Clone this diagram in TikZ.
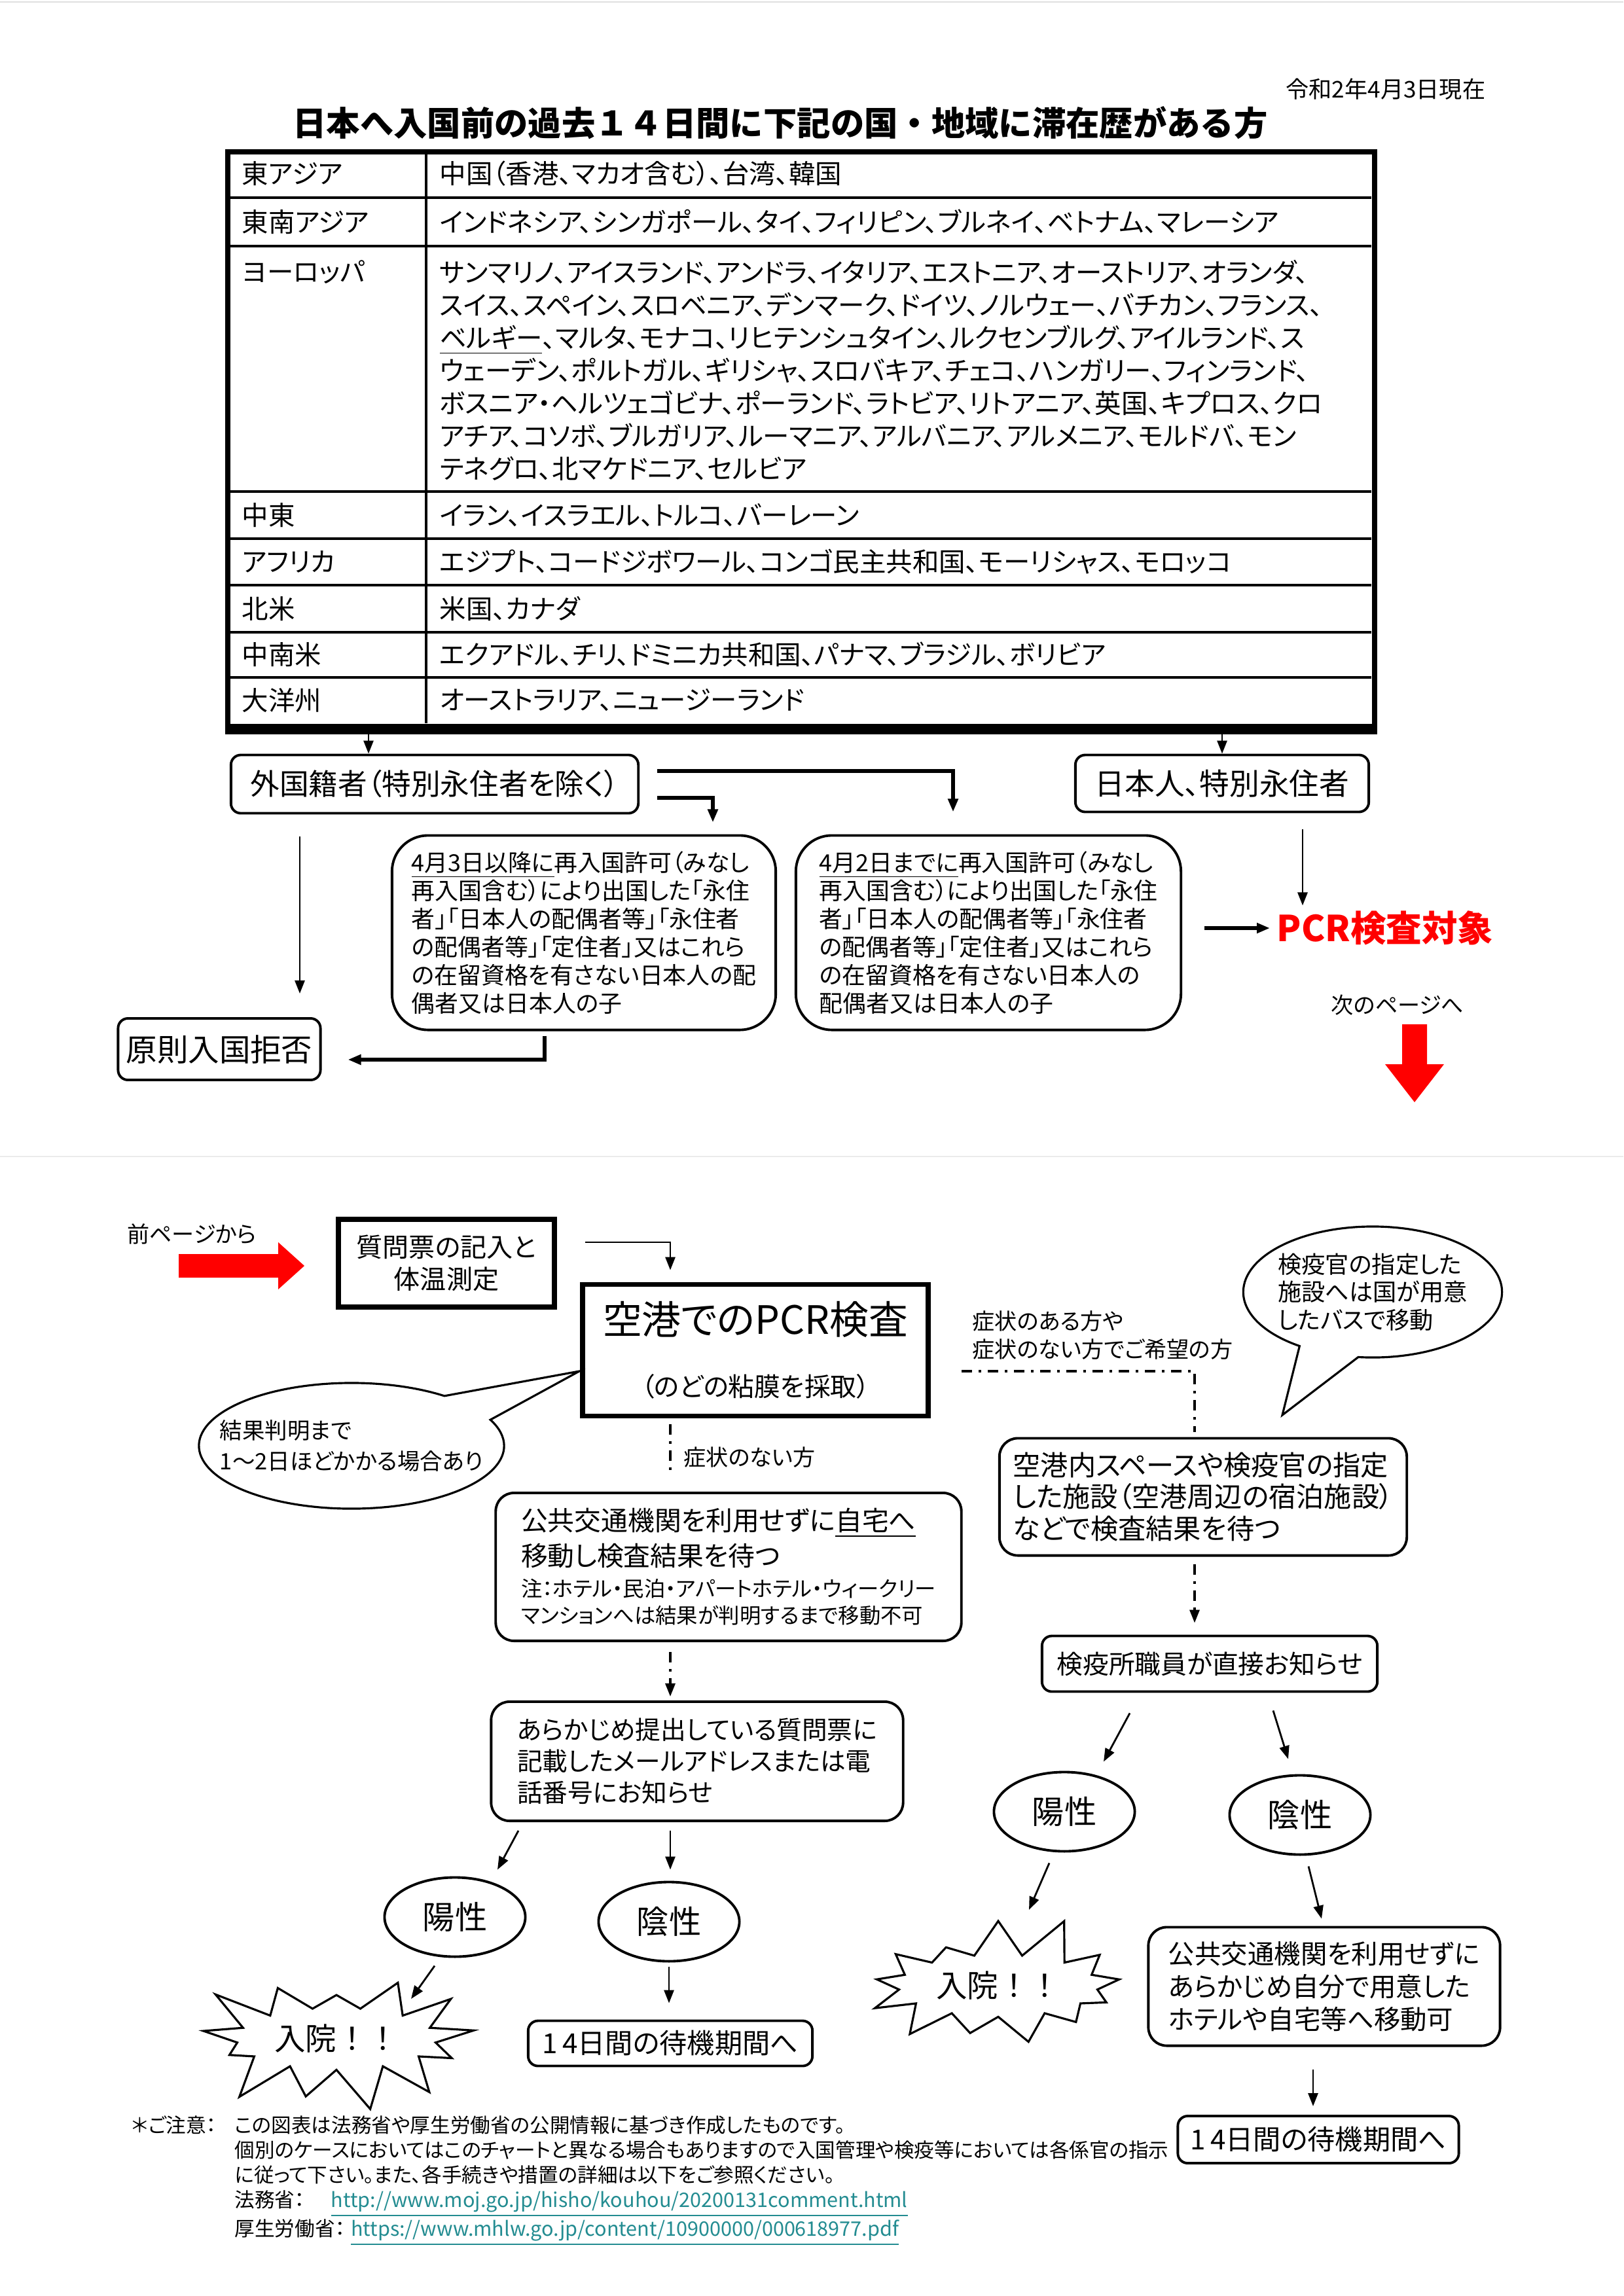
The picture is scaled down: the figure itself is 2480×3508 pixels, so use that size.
\documentclass[tikz,border=0pt]{standalone}
\usepackage{fontspec}
\setmainfont{Noto Sans CJK JP}[RawFeature=+palt]
\newfontfamily\jpfull{Noto Sans CJK JP}
\usetikzlibrary{arrows.meta,positioning,calc,shapes.geometric,shapes.symbols,shapes.callouts}

\definecolor{linkteal}{RGB}{35,140,145}
\newcommand{\fsz}[2]{\fontsize{#1}{#2}\selectfont}

\begin{document}
\begin{tikzpicture}[x=0.01cm, y=-0.01cm,
  arr/.style={-{Triangle[length=2mm,width=1.5mm]}, line width=0.8pt},
  harr/.style={arr, line width=1.5pt},
  ddash/.style={line width=0.9pt, dash pattern=on 1.6mm off 1mm on 0.4mm off 1mm},
  darr/.style={ddash, -{Triangle[length=2mm,width=1.5mm]}},
  cell/.style={anchor=west, inner sep=0pt, font=\fsz{11.5}{14.2}},
  rbox/.style={draw, line width=1.1pt, rounded corners=1.5mm, inner sep=0pt, fill=white},
  tbox/.style={rbox, rounded corners=2.8mm, align=left},
  lbox/.style={rbox, rounded corners=5.5mm, align=left, font=\fsz{10.2}{12.2}},
  sqbox/.style={draw, line width=2.2pt, inner sep=0pt, align=center},
  result/.style={draw, ellipse, line width=1.1pt, inner sep=0pt, minimum width=2.15cm, minimum height=1.21cm, font=\fsz{14}{16}},
  burst/.style={draw, starburst, line width=0.9pt, fill=white, starburst points=13, starburst point height=0.75cm, random starburst=12, minimum width=4.55cm, minimum height=1.75cm, font=\jpfull\fsz{13.5}{16}},
  bubble/.style={draw, ellipse callout, line width=0.9pt, align=left, inner sep=0pt, callout pointer arc=28},
  note/.style={inner sep=0pt, font=\fsz{9.7}{12.2}}
]
\fill[white] (0,0) rectangle (2480,3508);
\useasboundingbox (0,0) rectangle (2480,3508);
\draw[black!12, line width=0.6pt] (0,3) -- (2480,3);
\draw[black!8, line width=0.6pt] (0,1767) -- (2480,1767);

% --- page 1: regions table
\node[anchor=east, inner sep=0pt, font=\fsz{10}{12}] (asof) at (2270,136) {令和2年4月3日現在};
\node[inner sep=0pt, font=\jpfull\bfseries\fsz{14.6}{18}] (title) at (1192,188) {日本へ入国前の過去１４日間に下記の国・地域に滞在歴がある方};

\node[draw, line width=2.4pt, inner sep=0pt, minimum width=17.51cm, minimum height=8.77cm, anchor=north west] (tbl) at (344,228) {};
\draw[line width=4.5pt] (tbl.south west) -- (tbl.south east);
\draw[line width=0.9pt] (651,228) -- (651,1105);
\foreach \y in {302,376,751,823,894,966,1035}
  \draw[line width=0.9pt] (344,\y) -- (2095,\y);

\foreach \y/\reg/\cty [count=\i] in {
  265/東アジア/中国（香港、マカオ含む）、台湾、韓国,
  339/東南アジア/インドネシア、シンガポール、タイ、フィリピン、ブルネイ、ベトナム、マレーシア,
  787/中東/イラン、イスラエル、トルコ、バーレーン,
  858/アフリカ/エジプト、コードジボワール、コンゴ民主共和国、モーリシャス、モロッコ,
  930/北米/米国、カナダ,
  1000/中南米/エクアドル、チリ、ドミニカ共和国、パナマ、ブラジル、ボリビア,
  1070/大洋州/オーストラリア、ニュージーランド}{
  \node[cell] (reg\i) at (369,\y) {\reg};
  \node[cell] (cty\i) at (671,\y) {\cty};
}
\node[cell] (regEU) at (369,416) {ヨーロッパ};
\node[cell, anchor=north west, align=left] (ctyEU) at (671,397) {サンマリノ、アイスランド、アンドラ、イタリア、エストニア、オーストリア、オランダ、\\スイス、スペイン、スロベニア、デンマーク、ドイツ、ノルウェー、バチカン、フランス、\\\underline{ベルギー}、マルタ、モナコ、リヒテンシュタイン、ルクセンブルグ、アイルランド、ス\\ウェーデン、ポルトガル、ギリシャ、スロバキア、チェコ、ハンガリー、フィンランド、\\ボスニア・ヘルツェゴビナ、ポーランド、ラトビア、リトアニア、英国、キプロス、クロ\\アチア、コソボ、ブルガリア、ルーマニア、アルバニア、アルメニア、モルドバ、モン\\テネグロ、北マケドニア、セルビア};

% --- page 1: who may enter
\node[rbox, minimum width=6.22cm, minimum height=0.89cm, font=\fsz{12.7}{15}] (gai) at (664,1198) {外国籍者（特別永住者を除く）};
\node[rbox, minimum width=4.48cm, minimum height=0.87cm, font=\fsz{13}{15}] (jpn) at (1867,1197) {日本人、特別永住者};
\node[lbox, minimum width=5.86cm, minimum height=2.97cm] (after) at (892,1425) {\underline{4月3日以降に}再入国許可（みなし\\再入国含む）により出国した「永住\\者」「日本人の配偶者等」「永住者\\の配偶者等」「定住者」又はこれら\\の在留資格を有さない日本人の配\\偶者又は日本人の子};
\node[lbox, minimum width=5.88cm, minimum height=2.97cm] (before) at (1510,1425) {\underline{4月2日までに}再入国許可（みなし\\再入国含む）により出国した「永住\\者」「日本人の配偶者等」「永住者\\の配偶者等」「定住者」又はこれら\\の在留資格を有さない日本人の\\配偶者又は日本人の子};
\node[rbox, minimum width=3.09cm, minimum height=0.94cm, font=\fsz{13.5}{16}] (kyohi) at (335,1603) {原則入国拒否};
\node[anchor=west, inner sep=0.1cm, text=red, font=\bfseries\fsz{15.5}{18}] (pcr) at (1940,1418) {PCR検査対象};
\node[note] (nextpg) at (2135,1536) {次のページへ};
\fill[red] (2142,1565) -- (2180,1565) -- (2180,1626) -- (2206,1626) -- (2161,1684) -- (2116,1626) -- (2142,1626) -- cycle;

\draw[arr] (tbl.south -| 563,0) -- (gai.north -| 563,0);
\draw[arr] (tbl.south -| jpn.north) -- (jpn.north);
\draw[harr] ($(gai.east)+(27,-20)$) -| ($(before.north)+(-54,-34)$);
\draw[harr] ($(gai.east)+(27,21)$) -| ($(after.north)+(197,-18)$);
\draw[arr] ($(gai.south)+(-206,34)$) -- ($(kyohi.north)+(123,-36)$);
\draw[harr] ($(after.south)+(-60,7)$) |- ($(kyohi.east)+(40,16)$);
\draw[arr] ($(jpn.south)+(123,25)$) -- ++(0,116);
\draw[harr] ($(before.east)+(34,-7)$) -- (pcr.west);

% --- page 2: airport test
\node[note] (prevpg) at (293,1885) {前ページから};
\fill[red] (273,1916) -- (425,1916) -- (425,1898) -- (465,1934) -- (425,1970) -- (425,1952) -- (273,1952) -- cycle;
\node[sqbox, minimum width=3.3cm, minimum height=1.34cm, font=\fsz{11.4}{14}] (quest) at (682,1930) {質問票の記入と\\体温測定};
\node[sqbox, minimum width=5.28cm, minimum height=2.01cm, font=\fsz{11.3}{27}] (pcrtest) at (1154,2063) {{\fsz{17}{27}空港でのPCR検査}\\（のどの粘膜を採取）};
\draw[arr] ($(quest.east)+(43,-32)$) -| ($(pcrtest.north)+(-130,-18)$);

\node[bubble, inner xsep=-0.42cm, minimum width=4.66cm, minimum height=1.92cm, font=\fsz{9.8}{13.3}, callout absolute pointer={(885,2095)}] (waitnote) at (537,2209) {結果判明まで\\1〜2日ほどかかる場合あり};
\node[bubble, inner xsep=-0.05cm, minimum width=3.94cm, minimum height=2.0cm, font=\fsz{10.3}{12.1}, callout absolute pointer={(1959,2162)}] (busnote) at (2097,1974) {検疫官の指定した\\施設へは国が用意\\したバスで移動};

% left branch: no symptoms
\node[note, anchor=west] (nosym) at (1044,2227) {症状のない方};
\node[tbox, minimum width=7.11cm, minimum height=2.26cm, font=\fsz{9.2}{11.7}] (home) at (1113,2394) {\fsz{11.6}{13.4}公共交通機関を利用せずに\underline{自宅へ}\\[1.7pt]\fsz{11.6}{13.4}移動し検査結果を待つ\\[1.7pt]注：ホテル・民泊・アパートホテル・ウィークリー\\マンションへは結果が判明するまで移動不可};
\draw[ddash] ($(pcrtest.south)+(-130,9)$) -- ($(home.north)+(-89,-23)$);
\node[tbox, minimum width=6.29cm, minimum height=1.82cm, font=\fsz{11}{13.7}] (notify) at (1065,2691) {あらかじめ提出している質問票に\\記載したメールアドレスまたは電\\話番号にお知らせ};
\draw[darr] ($(home.south)+(-89,15)$) -- ($(notify.north)+(-41,-6)$);
\node[result] (pos1) at (695,2929) {陽性};
\node[result] (neg1) at (1022,2936) {陰性};
\node[burst, random starburst=23] (ward1) at (514,3115) {入院！！};
\draw[arr] ($(notify.south)+(-273,13)$) -- ($(pos1.north)+(65,-10)$);
\draw[arr] ($(notify.south)+(-41,13)$) -- ($(neg1.north)+(2,-17)$);
\draw[arr] ($(pos1.south)+(-31,12)$) -- ($(ward1.center)+(114,-61)$);
\node[rbox, minimum width=4.34cm, minimum height=0.69cm, font=\fsz{12}{14}] (wait1) at (1024,3122) {1\,4日間の待機期間へ};
\draw[arr] ($(neg1.south)+(0,6)$) -- ($(wait1.north)+(-2,-25)$);

% right branch: symptoms or on request
\node[note, anchor=west, align=left] (withsym) at (1485,2040) {症状のある方や\\症状のない方でご希望の方};
\node[tbox, minimum width=6.22cm, minimum height=1.79cm, font=\fsz{12}{13.7}] (facility) at (1838,2287) {空港内スペースや検疫官の指定\\した施設（空港周辺の宿泊施設）\\などで検査結果を待つ};
\draw[ddash] ($(pcrtest.east)+(47,32)$) -| ($(facility.north)+(-13,-8)$);
\node[rbox, minimum width=5.12cm, minimum height=0.85cm, font=\fsz{11.3}{14}] (staff) at (1848,2542) {検疫所職員が直接お知らせ};
\draw[darr] ($(facility.south)+(-13,11)$) -- ($(staff.north)+(-23,-18)$);
\node[result] (pos2) at (1626,2768) {陽性};
\node[result] (neg2) at (1986,2773) {陰性};
\draw[arr] ($(staff.south)+(-122,31)$) -- ($(pos2.north)+(60,-14)$);
\draw[arr] ($(staff.south)+(97,27)$) -- ($(neg2.north)+(-18,-23)$);
\node[burst, random starburst=31] (ward2) at (1525,3034) {入院！！};
\node[tbox, minimum width=5.37cm, minimum height=1.81cm, font=\fsz{11.5}{14.2}] (hotel) at (2023,3035) {公共交通機関を利用せずに\\あらかじめ自分で用意した\\ホテルや自宅等へ移動可};
\draw[arr] ($(pos2.south)+(-23,16)$) -- ($(ward2.center)+(47,-116)$);
\draw[arr] ($(neg2.south)+(13,16)$) -- ($(hotel.north)+(-4,-11)$);

% footnote
\node[anchor=west, inner sep=0pt, font=\fsz{8.7}{10.8}] (caution) at (201,3247) {＊ご注意：};
\node[anchor=north west, inner sep=0pt, align=left, font=\fsz{8.7}{10.8}] (fnote) at (358,3232) {この図表は法務省や厚生労働省の公開情報に基づき作成したものです。\\個別のケースにおいてはこのチャートと異なる場合もありますので入国管理や検疫等においては各係官の指示\\に従って下さい。また、各手続きや措置の詳細は以下をご参照ください。\\法務省：\hspace{1.3em}\textcolor{linkteal}{\underline{http://www.moj.go.jp/hisho/kouhou/20200131comment.html}}\\厚生労働省：\hspace{0.3em}\textcolor{linkteal}{\underline{https://www.mhlw.go.jp/content/10900000/000618977.pdf}}};

\node[rbox, minimum width=4.29cm, minimum height=0.72cm, font=\fsz{12}{14}] (wait2) at (2014,3269) {1\,4日間の待機期間へ};
\draw[arr] ($(hotel.south)+(-17,34)$) -- ($(wait2.north)+(-8,-13)$);
\end{tikzpicture}
\end{document}
